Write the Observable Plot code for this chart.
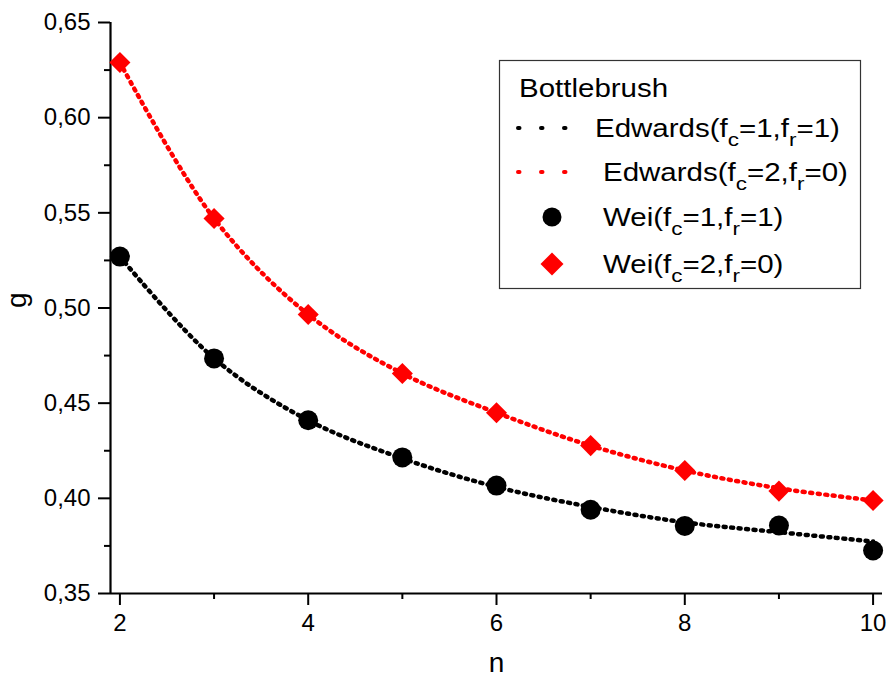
<!DOCTYPE html>
<html>
<head>
<meta charset="utf-8">
<script src="https://cdn.jsdelivr.net/npm/d3@7"></script>
<script src="https://cdn.jsdelivr.net/npm/@observablehq/plot@0.6"></script>
<style>
  body { margin: 0; background: #fff; }
  #wrap { position: relative; width: 889px; height: 679px; font-family: "Liberation Sans", Arial, sans-serif; }
  #legend { position: absolute; left: 0; top: 0; }
</style>
</head>
<body>
<div id="wrap"></div>
<script>
const n = [2, 3, 4, 5, 6, 7, 8, 9, 10];
const weiC1R1 = [0.527, 0.4735, 0.441, 0.4215, 0.4067, 0.394, 0.3855, 0.3857, 0.3726];
const weiC2R0 = [0.629, 0.547, 0.4966, 0.4656, 0.445, 0.4277, 0.4146, 0.4038, 0.3989];
const edwardsC1R1 = [0.527, 0.4735, 0.441, 0.421, 0.406, 0.3955, 0.3874, 0.3822, 0.3773];
const edwardsC2R0 = [0.629, 0.547, 0.4966, 0.4656, 0.445, 0.4277, 0.4146, 0.4053, 0.3989];
const xTicks = [2, 4, 6, 8, 10];
const xMinorTicks = [3, 5, 7, 9];
const yTicks = [0.35, 0.40, 0.45, 0.50, 0.55, 0.60, 0.65];
const yMinorTicks = [0.375, 0.425, 0.475, 0.525, 0.575, 0.625];

const rows = (ys) => n.map((x, i) => ({x, y: ys[i]}));
const fmt = (d) => d3.format(".2f")(d).replace(".", ",");

const plot = Plot.plot({
  width: 889,
  height: 679,
  marginLeft: 110,
  marginRight: 7,
  marginTop: 22,
  marginBottom: 86,
  style: {fontFamily: "Liberation Sans, Arial, sans-serif", background: "white"},
  x: {domain: [1.9, 10.1]},
  y: {domain: [0.35, 0.65]},
  marks: [
    Plot.axisX(xTicks, {tickSize: 12, tickPadding: 8, strokeWidth: 2, fontSize: 24, color: "black",
      label: null}),
    Plot.axisX(xMinorTicks, {tickSize: 6, strokeWidth: 2, text: null, label: null}),
    Plot.axisY(yTicks, {tickSize: 12, tickPadding: 8, strokeWidth: 2, fontSize: 24, tickFormat: fmt,
      label: null}),
    Plot.axisY(yMinorTicks, {tickSize: 6, strokeWidth: 2, text: null, label: null}),
    Plot.ruleX([1.9], {stroke: "black", strokeWidth: 2.2}),
    Plot.ruleY([0.35], {stroke: "black", strokeWidth: 2.2}),
    Plot.line(rows(edwardsC1R1), {x: "x", y: "y", curve: "catmull-rom", stroke: "black",
      strokeWidth: 4.5, strokeDasharray: "2 5.5", strokeLinecap: "round"}),
    Plot.line(rows(edwardsC2R0), {x: "x", y: "y", curve: "catmull-rom", stroke: "#ff0000",
      strokeWidth: 4.5, strokeDasharray: "2 5.5", strokeLinecap: "round"}),
    Plot.dot(rows(weiC1R1), {x: "x", y: "y", r: 10, fill: "black", stroke: "none"}),
    Plot.dot(rows(weiC2R0), {x: "x", y: "y", r: 9.5, symbol: "diamond2", fill: "#ff0000", stroke: "none"}),
    Plot.text(["n"], {frameAnchor: "bottom", dy: 78, fontSize: 28, fill: "black"}),
    Plot.text(["g"], {frameAnchor: "left", dx: -93, rotate: -90, fontSize: 28, fill: "black"})
  ]
});
document.getElementById("wrap").appendChild(plot);

// Legend
const legendEntries = [
  {kind: "line", color: "black", label: ["Edwards(f", "c", "=1,f", "r", "=1)"], tx: 595, y: 128},
  {kind: "line", color: "#ff0000", label: ["Edwards(f", "c", "=2,f", "r", "=0)"], tx: 603, y: 172},
  {kind: "circle", color: "black", label: ["Wei(f", "c", "=1,f", "r", "=1)"], tx: 603, y: 217},
  {kind: "diamond", color: "#ff0000", label: ["Wei(f", "c", "=2,f", "r", "=0)"], tx: 603, y: 264}
];
const sx = 1.18;
const lg = d3.select("#wrap").append("svg").attr("id", "legend")
  .attr("width", 889).attr("height", 679)
  .style("font-family", "Liberation Sans, Arial, sans-serif");
lg.append("rect").attr("x", 499.5).attr("y", 60.5).attr("width", 361).attr("height", 228)
  .attr("fill", "white").attr("stroke", "#333").attr("stroke-width", 1.2);
lg.append("text").attr("transform", `translate(519,97) scale(${sx},1)`).attr("font-size", 25).text("Bottlebrush");
for (const e of legendEntries) {
  if (e.kind === "line") {
    lg.append("line").attr("x1", 518).attr("x2", 586).attr("y1", e.y).attr("y2", e.y)
      .attr("stroke", e.color).attr("stroke-width", 4).attr("stroke-dasharray", "1.5 21.5")
      .attr("stroke-linecap", "round");
  } else if (e.kind === "circle") {
    lg.append("circle").attr("cx", 552).attr("cy", e.y).attr("r", 9.5).attr("fill", e.color);
  } else {
    const s = 11.5;
    lg.append("path").attr("d", `M552,${e.y - s}L${552 + s},${e.y}L552,${e.y + s}L${552 - s},${e.y}Z`)
      .attr("fill", e.color);
  }
  const t = lg.append("text").attr("transform", `translate(${e.tx},${e.y + 9}) scale(${sx},1)`)
    .attr("font-size", 25);
  e.label.forEach((part, i) => {
    if (i % 2 === 1) {
      t.append("tspan").attr("font-size", 19).attr("dy", 9).text(part);
    } else {
      t.append("tspan").attr("dy", i === 0 ? 0 : -9).text(part);
    }
  });
}
</script>
</body>
</html>
